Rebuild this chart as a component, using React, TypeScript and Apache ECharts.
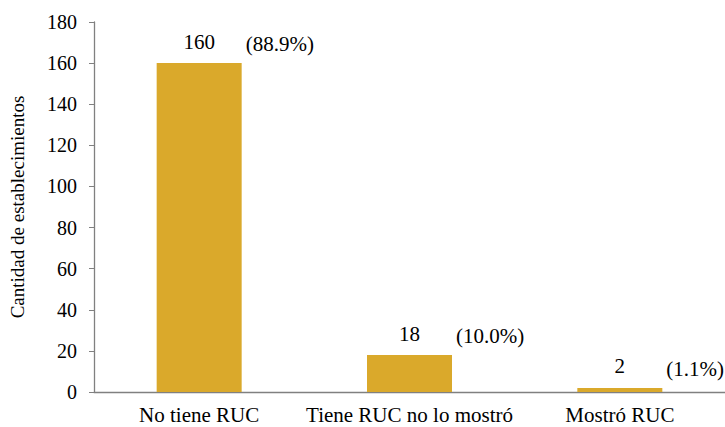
import React, { useEffect, useRef } from "react";
import * as echarts from "echarts";

const categories = ["No tiene RUC", "Tiene RUC no lo mostró", "Mostró RUC"];
const values = [160, 18, 2];
const percents = ["(88.9%)", "(10.0%)", "(1.1%)"];
const yTicks = { min: 0, max: 180, interval: 20 };

const FONT = "Liberation Serif";

export default function App() {
  const ref = useRef<HTMLDivElement>(null);
  useEffect(() => {
    if (!ref.current) return;
    const chart = echarts.init(ref.current, undefined, { renderer: "svg" });
    chart.setOption({
      animation: false,
      textStyle: { fontFamily: FONT },
      grid: { left: 91, right: -2, top: 22, bottom: 35 },
      xAxis: {
        type: "category",
        data: categories,
        axisLine: { lineStyle: { color: "#808080", width: 1.3 } },
        axisTick: { show: false },
        axisLabel: { color: "#000", fontSize: 21, fontFamily: FONT, margin: 12, interval: 0 },
      },
      yAxis: {
        type: "value",
        min: yTicks.min,
        max: yTicks.max,
        interval: yTicks.interval,
        name: "Cantidad de establecimientos",
        nameLocation: "middle",
        nameGap: 67,
        nameTextStyle: { color: "#000", fontSize: 19, fontFamily: FONT },
        splitLine: { show: false },
        axisLine: { show: true, lineStyle: { color: "#808080", width: 1.3 } },
        axisTick: { show: true, length: 5, lineStyle: { color: "#808080" } },
        axisLabel: { color: "#000", fontSize: 20, fontFamily: FONT, margin: 17 },
      },
      series: [
        {
          type: "bar",
          data: values,
          barWidth: 85,
          itemStyle: { color: "#DAA92B" },
          label: {
            show: true,
            position: "top",
            distance: 11,
            color: "#000",
            fontSize: 21,
            fontFamily: FONT,
          },
        },
        {
          type: "bar",
          data: values,
          barWidth: 85,
          barGap: "-100%",
          itemStyle: { color: "transparent" },
          silent: true,
          label: {
            show: true,
            position: ["100%", -19],
            align: "left",
            verticalAlign: "middle",
            offset: [4, 0],
            color: "#000",
            fontSize: 21,
            fontFamily: FONT,
            formatter: (p: any) => percents[p.dataIndex],
          },
        },
      ],
    });
    return () => chart.dispose();
  }, []);
  return (
    <div
      ref={ref}
      style={{ position: "absolute", left: 0, top: 0, width: 725, height: 427, background: "#fff" }}
    />
  );
}
